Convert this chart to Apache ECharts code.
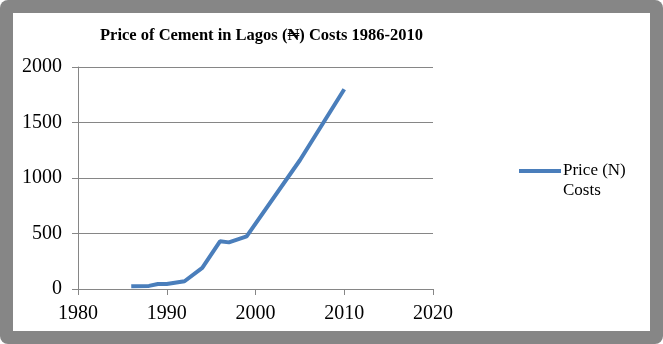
<!DOCTYPE html>
<html>
<head>
<meta charset="utf-8">
<script src="https://cdn.jsdelivr.net/npm/echarts@6/dist/echarts.min.js"></script>
<style>
  body { margin: 0; }
  #frame { position: relative; width: 663px; height: 344px; background: #868686; border-radius: 8px; }
  #chart { position: absolute; left: 13px; top: 13px; width: 637px; height: 318px; background: #fff; }
</style>
</head>
<body>
<div id="frame"><div id="chart"></div></div>
<script>
// data
var years = [1986, 1988, 1989, 1990, 1992, 1994, 1996, 1997, 1999, 2005, 2010];
var prices = [25, 28, 45, 45, 70, 190, 430, 420, 475, 1160, 1800];
var xTicks = [1980, 2020, 10];
var yTicks = [0, 2000, 500];

var myChart = echarts.init(document.getElementById('chart'));

var gray = '#868686';
var font = 'Liberation Serif';
var plain = function (v) { return String(v); };

var option = {
    animation: false,
    title: {
        text: 'Price of Cement in Lagos (\u20A6) Costs 1986-2010',
        left: 82,
        top: 9,
        textStyle: { fontFamily: font, fontWeight: 'bold', fontSize: 16.5, color: '#000' }
    },
    legend: {
        data: ['Price (N) Costs'],
        orient: 'vertical',
        left: 501,
        top: 123,
        icon: 'rect',
        itemWidth: 42,
        itemHeight: 4,
        // blank first line keeps "Price (N)" level with the line icon
        formatter: function () { return '\nPrice (N)\nCosts'; },
        textStyle: { fontFamily: font, fontSize: 17, color: '#000', lineHeight: 20, padding: [0, 0, 0, -3] }
    },
    grid: { left: 65, right: 217, top: 54, bottom: 42 },
    xAxis: {
        type: 'value',
        min: xTicks[0], max: xTicks[1], interval: xTicks[2],
        splitLine: { show: false },
        axisLine: { lineStyle: { color: gray } },
        axisTick: { length: 6, lineStyle: { color: gray } },
        axisLabel: { fontFamily: font, fontSize: 20, color: '#000', margin: 15, formatter: plain }
    },
    yAxis: {
        type: 'value',
        min: yTicks[0], max: yTicks[1], interval: yTicks[2],
        splitLine: { lineStyle: { color: gray } },
        axisLine: { show: true, lineStyle: { color: gray } },
        axisTick: { show: true, length: 6, lineStyle: { color: gray } },
        axisLabel: { fontFamily: font, fontSize: 20, color: '#000', margin: 16, formatter: plain }
    },
    series: [{
        name: 'Price (N) Costs',
        type: 'line',
        data: years.map(function (y, i) { return [y, prices[i]]; }),
        symbol: 'none',
        lineStyle: { color: '#4a7ebb', width: 4 },
        itemStyle: { color: '#4a7ebb' }
    }]
};

myChart.setOption(option);
</script>
</body>
</html>
